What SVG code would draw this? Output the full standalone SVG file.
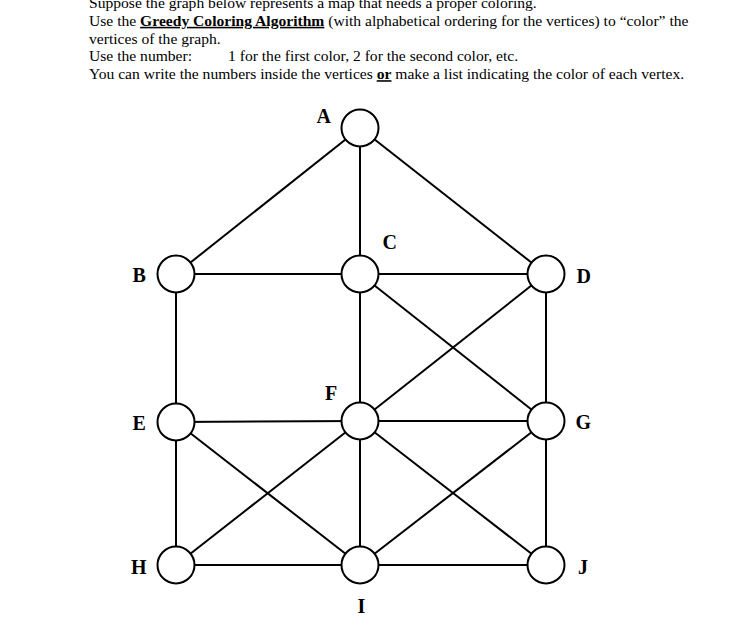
<svg xmlns="http://www.w3.org/2000/svg" width="741" height="635" viewBox="0 0 741 635">
<style>
.t{font-family:"Liberation Serif","Times New Roman",serif;font-size:15.6px;fill:#000}
.b{font-weight:bold}
.u{text-decoration:underline}
.lbl{font-family:"Liberation Serif","Times New Roman",serif;font-size:20px;font-weight:bold;fill:#000}
.n{fill:#fff;stroke:#000;stroke-width:2}
.e line{stroke:#000;stroke-width:2}
</style>
<rect width="741" height="635" fill="#fff"/>
<g id="text">
<text class="t" x="89" y="8">Suppose the graph below represents a map that needs a proper coloring.</text>
<text class="t" x="89" y="25.8">Use the <tspan class="b u">Greedy Coloring Algorithm</tspan> (with alphabetical ordering for the vertices) to “color” the</text>
<text class="t" x="89" y="43.6">vertices of the graph.</text>
<text class="t" x="89" y="61.4">Use the number:</text>
<text class="t" x="228" y="61.4">1 for the first color, 2 for the second color, etc.</text>
<text class="t" x="89" y="79.2">You can write the numbers inside the vertices <tspan class="b u">or</tspan> make a list indicating the color of each vertex.</text>
</g>
<g id="edges" class="e">
<line x1="360" y1="128" x2="176" y2="274"/>
<line x1="360" y1="128" x2="360" y2="274"/>
<line x1="360" y1="128" x2="546" y2="274"/>
<line x1="176" y1="274" x2="360" y2="274"/>
<line x1="360" y1="274" x2="546" y2="274"/>
<line x1="176" y1="274" x2="176" y2="422"/>
<line x1="360" y1="274" x2="360" y2="421"/>
<line x1="360" y1="274" x2="546" y2="421"/>
<line x1="546" y1="274" x2="360" y2="421"/>
<line x1="546" y1="274" x2="546" y2="421"/>
<line x1="176" y1="422" x2="360" y2="421"/>
<line x1="360" y1="421" x2="546" y2="421"/>
<line x1="176" y1="422" x2="176" y2="565"/>
<line x1="176" y1="422" x2="360" y2="565"/>
<line x1="360" y1="421" x2="176" y2="565"/>
<line x1="360" y1="421" x2="360" y2="565"/>
<line x1="360" y1="421" x2="546" y2="565"/>
<line x1="546" y1="421" x2="360" y2="565"/>
<line x1="546" y1="421" x2="546" y2="565"/>
<line x1="176" y1="565" x2="360" y2="565"/>
<line x1="360" y1="565" x2="546" y2="565"/>
</g>
<g id="A"><circle class="n" cx="360" cy="128" r="18.5"/><text class="lbl" x="316.5" y="122.5">A</text></g>
<g id="B"><circle class="n" cx="176" cy="274" r="18.5"/><text class="lbl" x="132.5" y="281.5">B</text></g>
<g id="C"><circle class="n" cx="360" cy="274" r="18.5"/><text class="lbl" x="382.5" y="248.5">C</text></g>
<g id="D"><circle class="n" cx="546" cy="274" r="18.5"/><text class="lbl" x="576.5" y="283">D</text></g>
<g id="E"><circle class="n" cx="176" cy="422" r="18.5"/><text class="lbl" x="132.5" y="430">E</text></g>
<g id="F"><circle class="n" cx="360" cy="421" r="18.5"/><text class="lbl" x="325" y="399.5">F</text></g>
<g id="G"><circle class="n" cx="546" cy="421" r="18.5"/><text class="lbl" x="575.5" y="428.5">G</text></g>
<g id="H"><circle class="n" cx="176" cy="565" r="18.5"/><text class="lbl" x="131" y="574">H</text></g>
<g id="I"><circle class="n" cx="360" cy="565" r="18.5"/><text class="lbl" x="357.5" y="613">I</text></g>
<g id="J"><circle class="n" cx="546" cy="565" r="18.5"/><text class="lbl" x="578" y="574">J</text></g>
</svg>
